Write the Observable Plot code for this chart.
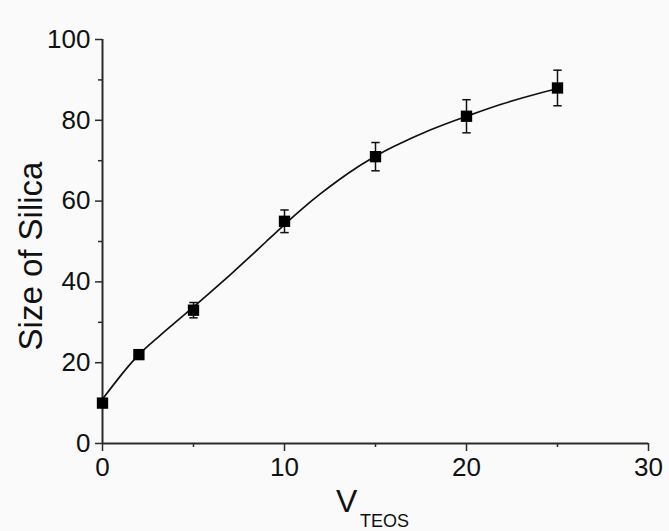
<!DOCTYPE html>
<html>
<head>
<meta charset="utf-8">
<script src="https://cdn.jsdelivr.net/npm/d3@7"></script>
<script src="https://cdn.jsdelivr.net/npm/@observablehq/plot@0.6"></script>
<style>
  html, body { margin: 0; padding: 0; background: #fafafa; }
  #chart svg { display: block; }
</style>
</head>
<body>
<div id="chart"></div>
<script>
const vTeos = [0, 2, 5, 10, 15, 20, 25];
const sizeSilica = [10, 22, 33, 55, 71, 81, 88];
const sizeError = [1, 1, 1.9, 2.8, 3.5, 4.1, 4.4];
// Fitted curve
const fitX = [0, 1, 2, 3, 4, 5, 6, 7, 8, 9, 10, 11, 12, 13, 14, 15, 16, 18, 20, 22, 24, 25];
const fitY = [11.0, 16.8, 22.0, 26.1, 30.0, 33.8, 37.7, 41.7, 45.8, 50.0, 54.2, 58.2, 61.9, 65.3, 68.4, 71.1, 73.5, 77.6, 81.0, 84.1, 86.7, 87.8];
// Ticks and labels
const xMajorTicks = [0, 10, 20, 30];
const xMinorTicks = [5, 15, 25];
const yMajorTicks = [0, 20, 40, 60, 80, 100];
const yMinorTicks = [10, 30, 50, 70, 90];
const yLabel = "Size of Silica";
const xLabelMain = "V";
const xLabelSub = "TEOS";

const data = vTeos.map((x, i) => ({x, y: sizeSilica[i], lo: sizeSilica[i] - sizeError[i], hi: sizeSilica[i] + sizeError[i]}));
const fit = fitX.map((x, i) => ({x, y: fitY[i]}));

const capSymbol = {
  draw(context, size) {
    const w = 4.2;
    context.moveTo(-w, 0);
    context.lineTo(w, 0);
  }
};

const axisColor = "#2a2a2a";
const font = "'Liberation Sans', Arial, sans-serif";

const plot = Plot.plot({
  width: 669,
  height: 531,
  marginLeft: 102,
  marginRight: 21,
  marginTop: 39,
  marginBottom: 88,
  style: {background: "#fafafa", fontFamily: font, fontSize: "26px", color: "#111"},
  x: {domain: [0, 30], label: null},
  y: {domain: [0, 100], label: null},
  marks: [
    // minor ticks
    Plot.axisX(xMinorTicks, {tickSize: 4, text: null, stroke: axisColor, strokeWidth: 1.5, label: null}),
    Plot.axisY(yMinorTicks, {tickSize: 4, text: null, stroke: axisColor, strokeWidth: 1.5, label: null}),
    // major ticks with labels
    Plot.axisX(xMajorTicks, {tickSize: 8, tickPadding: 6, stroke: axisColor, strokeWidth: 1.5, fill: "#111", fontSize: 26, label: null}),
    Plot.axisY(yMajorTicks, {tickSize: 7, tickPadding: 5, stroke: axisColor, strokeWidth: 1.5, fill: "#111", fontSize: 26, label: null}),
    // axis lines
    Plot.ruleY([0], {x1: 0, x2: 30, stroke: axisColor, strokeWidth: 2}),
    Plot.ruleX([0], {y1: 0, y2: 100, stroke: axisColor, strokeWidth: 2}),
    // fitted curve
    Plot.line(fit, {x: "x", y: "y", curve: "natural", stroke: "#111", strokeWidth: 1.7}),
    // error bars
    Plot.ruleX(data, {x: "x", y1: "lo", y2: "hi", stroke: "#111", strokeWidth: 1.5}),
    Plot.dot(data, {x: "x", y: "lo", symbol: capSymbol, stroke: "#111", strokeWidth: 1.5, r: 4}),
    Plot.dot(data, {x: "x", y: "hi", symbol: capSymbol, stroke: "#111", strokeWidth: 1.5, r: 4}),
    // markers
    Plot.dot(data, {x: "x", y: "y", symbol: "square", fill: "#000", stroke: "none", r: 6.4})
  ]
});

document.getElementById("chart").appendChild(plot);

const svg = d3.select(plot);
svg.append("text")
  .attr("transform", "translate(42,256) rotate(-90)")
  .attr("text-anchor", "middle")
  .attr("font-family", font)
  .attr("font-size", 33)
  .attr("fill", "#111")
  .text(yLabel);
svg.append("text")
  .attr("x", 336)
  .attr("y", 512)
  .attr("text-anchor", "start")
  .attr("font-family", font)
  .attr("font-size", 32)
  .attr("fill", "#111")
  .text(xLabelMain);
svg.append("text")
  .attr("x", 360)
  .attr("y", 527)
  .attr("text-anchor", "start")
  .attr("font-family", font)
  .attr("font-size", 18)
  .attr("fill", "#111")
  .text(xLabelSub);
</script>
</body>
</html>
